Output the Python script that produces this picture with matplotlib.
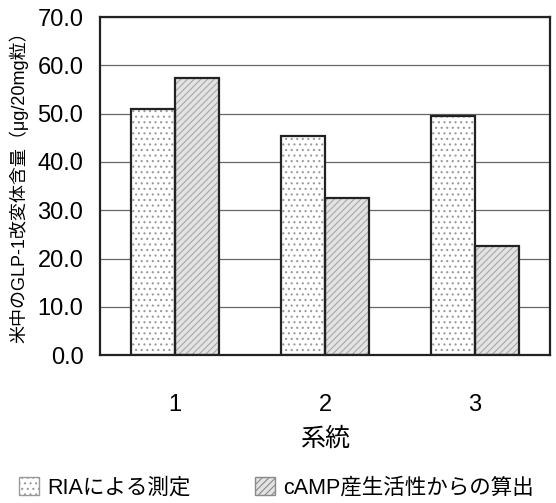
import numpy as np
import matplotlib.pyplot as plt
from matplotlib.patches import Patch

plt.rcParams['font.family'] = ['Liberation Sans', 'Noto Sans CJK JP', 'DejaVu Sans']
plt.rcParams['hatch.linewidth'] = 0.8

# data
lines = ['1', '2', '3']
ria = [51.0, 45.3, 49.5]
camp = [57.4, 32.5, 22.5]
series_names = ['RIAによる測定', 'cAMP産生活性からの算出']
yticks = [0, 10, 20, 30, 40, 50, 60, 70]


def main():
    fig = plt.figure(figsize=(5.56, 5.03), dpi=100)
    ax = fig.add_axes([0.18, 0.294, 0.809, 0.672])

    x = np.arange(len(lines))
    w = 0.293

    # hatch layer (grey pattern) then black outlines on top
    ax.bar(x - w / 2, ria, w, color='white', hatch='...', edgecolor='#9a9a9a',
           linewidth=0, zorder=2)
    ax.bar(x + w / 2, camp, w, color='#e3e3e3', hatch='/////', edgecolor='#a8a8a8',
           linewidth=0, zorder=2)
    ax.bar(x - w / 2, ria, w, fill=False, edgecolor='#222222', linewidth=1.6, zorder=3)
    ax.bar(x + w / 2, camp, w, fill=False, edgecolor='#222222', linewidth=1.6, zorder=3)

    ax.set_xlim(-0.5, len(lines) - 0.5)
    ax.set_ylim(0, 70)
    ax.set_yticks(yticks)
    ax.set_yticklabels(['%.1f' % v for v in yticks], fontsize=17)
    ax.set_xticks(x)
    ax.set_xticklabels(lines, fontsize=17)
    ax.tick_params(length=0, pad=12)
    ax.tick_params(axis='x', pad=28)
    ax.grid(axis='y', color='#666666', linewidth=0.9)
    ax.set_axisbelow(True)
    for s in ax.spines.values():
        s.set_linewidth(1.6)
        s.set_color('#222222')

    ax.set_xlabel('系統', fontsize=18, labelpad=8)
    ax.set_ylabel('米中のGLP-1改変体含量（μg/20mg粒）', fontsize=13)
    ax.yaxis.set_label_coords(-0.16, 0.51)

    handles = [
        Patch(facecolor='white', hatch='...', edgecolor='#9a9a9a', linewidth=1),
        Patch(facecolor='#e3e3e3', hatch='/////', edgecolor='#8a8a8a', linewidth=1),
    ]
    fig.legend(handles, series_names, loc='lower left', bbox_to_anchor=(0.0, -0.03),
               ncol=2, frameon=False, fontsize=15.5, handlelength=0.9, handleheight=0.9,
               handletextpad=0.4, columnspacing=3.0)

    fig.savefig('out.png', dpi=100)


if __name__ == '__main__':
    main()
